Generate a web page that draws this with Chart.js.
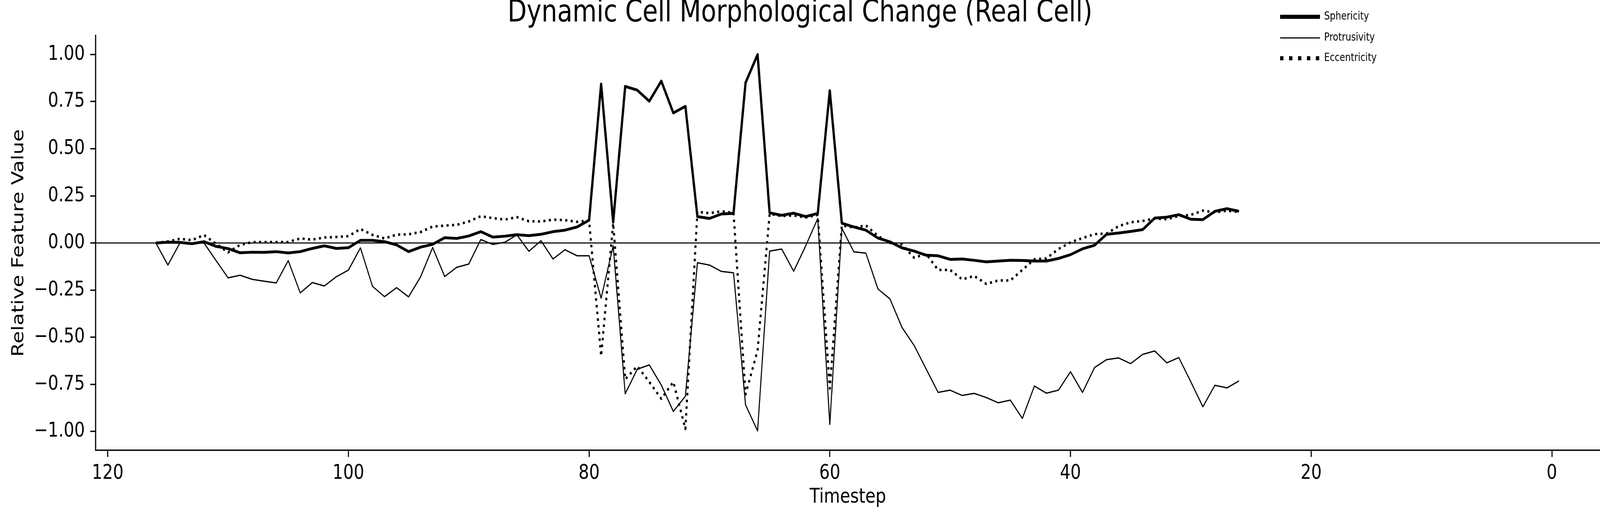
<!DOCTYPE html>
<html><head><meta charset="utf-8">
<script src="https://cdn.jsdelivr.net/npm/chart.js@4.4.1/dist/chart.umd.min.js"></script>
<style>
html,body{margin:0;padding:0;background:#fff;overflow:hidden;width:100%;height:100%}
#wrap{position:absolute;left:0;top:0;width:5017px;height:1338px;transform-origin:0 0}
</style>
</head><body>
<div id="wrap"><canvas id="c" width="5017" height="1338" style="width:5017px;height:1338px;display:block"></canvas></div>
<script>
const timesteps = [116,115,114,113,112,111,110,109,108,107,106,105,104,103,102,101,100,99,98,97,96,95,94,93,92,91,90,89,88,87,86,85,84,83,82,81,80,79,78,77,76,75,74,73,72,71,70,69,68,67,66,65,64,63,62,61,60,59,58,57,56,55,54,53,52,51,50,49,48,47,46,45,44,43,42,41,40,39,38,37,36,35,34,33,32,31,30,29,28,27,26];

const sphericity = [0.000, 0.004, 0.003, -0.004, 0.007, -0.018, -0.030, -0.052, -0.049, -0.050, -0.046, -0.053,
 -0.046, -0.029, -0.015, -0.029, -0.025, 0.014, 0.014, 0.007, -0.010, -0.046, -0.022,
 -0.007, 0.028, 0.024, 0.037, 0.060, 0.031, 0.036, 0.044, 0.039, 0.046, 0.060,
 0.068, 0.085, 0.121, 0.843, 0.110, 0.831, 0.811, 0.752, 0.859, 0.690, 0.725,
 0.140, 0.130, 0.154, 0.157, 0.850, 1.000, 0.160, 0.147, 0.158, 0.140, 0.157,
 0.808, 0.105, 0.085, 0.068, 0.026, 0.006, -0.026, -0.043, -0.065, -0.068, -0.087,
 -0.085, -0.092, -0.100, -0.096, -0.092, -0.093, -0.096, -0.096, -0.082, -0.062, -0.031,
 -0.012, 0.046, 0.053, 0.061, 0.071, 0.132, 0.137, 0.150, 0.126, 0.124, 0.168, 0.182, 0.168];

const protrusivity = [0.000, -0.117, 0.000, -0.002, 0.000, -0.093, -0.185, -0.171, -0.193, -0.203, -0.212, -0.094,
 -0.265, -0.210, -0.228, -0.179, -0.144, -0.026, -0.230, -0.285, -0.237, -0.286, -0.179,
 -0.024, -0.178, -0.129, -0.112, 0.018, -0.008, 0.004, 0.043, -0.044, 0.012, -0.085,
 -0.036, -0.068, -0.068, -0.293, -0.015, -0.800, -0.670, -0.647, -0.754, -0.894, -0.813,
 -0.105, -0.117, -0.151, -0.158, -0.859, -0.997, -0.043, -0.032, -0.150, -0.015, 0.130,
 -0.963, 0.078, -0.047, -0.054, -0.244, -0.297, -0.448, -0.543, -0.668, -0.793, -0.781,
 -0.809, -0.798, -0.820, -0.848, -0.834, -0.931, -0.759, -0.797, -0.781, -0.683, -0.793,
 -0.661, -0.619, -0.610, -0.640, -0.591, -0.573, -0.636, -0.608, -0.737, -0.869, -0.755, -0.769, -0.732];

const eccentricity = [0.000, 0.008, 0.022, 0.015, 0.042, -0.004, -0.050, -0.010, 0.004, 0.005, 0.005, 0.005,
 0.024, 0.018, 0.029, 0.032, 0.036, 0.074, 0.043, 0.024, 0.044, 0.046, 0.058,
 0.087, 0.092, 0.096, 0.114, 0.142, 0.132, 0.124, 0.137, 0.115, 0.114, 0.124,
 0.121, 0.112, 0.119, -0.600, 0.105, -0.723, -0.654, -0.737, -0.827, -0.737, -0.987,
 0.165, 0.158, 0.168, 0.160, -0.804, -0.570, 0.154, 0.143, 0.146, 0.135, 0.149,
 -0.772, 0.093, 0.082, 0.093, 0.037, 0.000, -0.008, -0.078, -0.058, -0.143, -0.143,
 -0.193, -0.175, -0.217, -0.199, -0.199, -0.143, -0.087, -0.082, -0.032, 0.003, 0.026,
 0.047, 0.050, 0.089, 0.110, 0.117, 0.130, 0.126, 0.143, 0.149, 0.172, 0.162, 0.171, 0.165];

const seriesNames = ['Sphericity', 'Protrusivity', 'Eccentricity'];
const xTicks = [0, 20, 40, 60, 80, 100, 120];
const yTicks = [-1, -0.75, -0.5, -0.25, 0, 0.25, 0.5, 0.75, 1];
const titleText = 'Dynamic Cell Morphological Change (Real Cell)';
const xTitle = 'Timestep';
const yTitle = 'Relative Feature Value';

// fit the 5017x1338 drawing into whatever viewport the browser really has
(function fit() {
  const w = window.innerWidth || 5017, h = window.innerHeight || 1338;
  document.getElementById('wrap').style.transform = 'scale(' + (w / 5017) + ',' + (h / 1338) + ')';
})();

const FONT = "'DejaVu Sans', 'Liberation Sans', sans-serif";
Chart.defaults.font.family = FONT;
Chart.defaults.color = '#000';

const toPts = arr => timesteps.map((t, i) => ({x: t, y: arr[i]}));

// legend sample styles (legend handles are drawn thicker than plot lines in the original)
const legendStyles = [
  {width: 10.5, dash: []},
  {width: 3.2, dash: []},
  {width: 10.5, dash: [10.5, 17.5]}
];

const zeroLine = {
  id: 'zeroLine',
  beforeDatasetsDraw(chart) {
    const {ctx, chartArea: a, scales: {y}} = chart;
    const py = y.getPixelForValue(0);
    ctx.save();
    ctx.strokeStyle = '#000';
    ctx.lineWidth = 2.8;
    ctx.beginPath();
    ctx.moveTo(a.left, py);
    ctx.lineTo(a.right, py);
    ctx.stroke();
    ctx.restore();
  }
};

const customLegend = {
  id: 'customLegend',
  afterDraw(chart) {
    const ctx = chart.ctx;
    const x0 = 4014, x1 = 4139, tx = 4152;
    const rows = [43, 97, 149];
    ctx.save();
    chart.data.datasets.forEach((ds, i) => {
      const st = legendStyles[i];
      ctx.strokeStyle = ds.borderColor;
      ctx.lineWidth = st.width;
      ctx.lineCap = 'butt';
      ctx.setLineDash(st.dash);
      ctx.beginPath();
      ctx.moveTo(x0, rows[i]);
      ctx.lineTo(x1, rows[i]);
      ctx.stroke();
      ctx.setLineDash([]);
      ctx.fillStyle = '#000';
      ctx.font = '28px ' + FONT;
      ctx.textBaseline = 'middle';
      ctx.textAlign = 'left';
      ctx.fillText(ds.label, tx, rows[i]);
    });
    ctx.restore();
  }
};

const axisGrid = {display: true, drawOnChartArea: false, drawTicks: true, tickLength: 17, tickWidth: 3.5, tickColor: '#000'};
const axisBorder = {display: true, color: '#000', width: 3.5};

new Chart(document.getElementById('c'), {
  type: 'line',
  data: {
    datasets: [
      {label: seriesNames[0], data: toPts(sphericity), borderColor: '#000', borderWidth: 7.2, pointRadius: 0, borderJoinStyle: 'round', tension: 0, fill: false},
      {label: seriesNames[1], data: toPts(protrusivity), borderColor: '#000', borderWidth: 3.3, pointRadius: 0, borderJoinStyle: 'round', tension: 0, fill: false},
      {label: seriesNames[2], data: toPts(eccentricity), borderColor: '#000', borderWidth: 6.5, borderDash: [6.5, 10.7], borderCapStyle: 'butt', pointRadius: 0, borderJoinStyle: 'round', tension: 0, fill: false}
    ]
  },
  options: {
    responsive: false,
    animation: false,
    devicePixelRatio: 1,
    layout: {padding: {top: 0, right: 0, bottom: 0, left: 0}},
    plugins: {
      legend: {display: false},
      tooltip: {enabled: false},
      title: {
        display: true, text: titleText, color: '#000',
        font: {size: 78, weight: 'normal', lineHeight: 0.9},
        padding: {top: 0, bottom: 21}
      }
    },
    scales: {
      x: {
        type: 'linear', reverse: true, min: -4, max: 121,
        afterBuildTicks: s => { s.ticks = xTicks.map(v => ({value: v})); },
        afterFit: s => { s.height = 186; },
        grid: axisGrid, border: axisBorder,
        ticks: {font: {size: 52}, color: '#000', padding: 11, maxRotation: 0, callback: v => String(v)},
        title: {display: true, text: xTitle, color: '#000', font: {size: 52, lineHeight: 1.2}, padding: {top: 0, bottom: 34}}
      },
      y: {
        type: 'linear', min: -1.1, max: 1.1,
        afterBuildTicks: s => { s.ticks = yTicks.map(v => ({value: v})); },
        afterFit: s => { s.width = 300; },
        grid: axisGrid, border: axisBorder,
        ticks: {font: {size: 52}, color: '#000', padding: 17,
          callback: v => (v < 0 ? '\u2212' : '') + Math.abs(v).toFixed(2)},
        title: {display: true, text: yTitle, color: '#000', font: {size: 52, lineHeight: 1.2}, padding: {top: 28, bottom: 0}}
      }
    }
  },
  plugins: [zeroLine, customLegend]
});
</script>
</body></html>
